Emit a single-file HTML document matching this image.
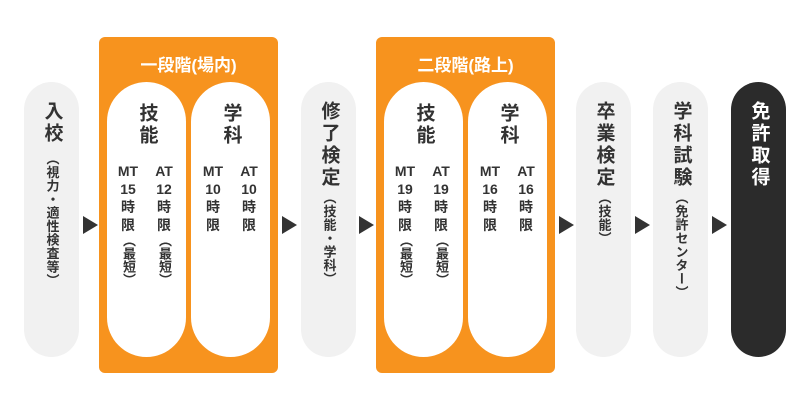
<!DOCTYPE html>
<html><head><meta charset="utf-8"><style>
body{margin:0;width:800px;height:417px;background:#fff;position:relative;overflow:hidden;font-family:"Liberation Sans","Noto Sans CJK JP",sans-serif;font-weight:bold;color:#333}
.pill{position:absolute;top:82px;width:55px;height:275px;border-radius:28px;background:#f1f1f1}
.org{position:absolute;top:37px;width:179px;height:336px;background:#f7931e;border-radius:6px}
.in{position:absolute;top:82px;width:79px;height:275px;border-radius:40px;background:#fff}
.v{position:absolute;writing-mode:vertical-rl;left:0;right:0;margin:auto;width:24px;text-align:left}
.big{font-size:19px;line-height:24px;letter-spacing:3px}
.sm{font-size:13px;line-height:24px;letter-spacing:0.5px}
.tri{position:absolute;top:216px;width:0;height:0;border-top:9px solid transparent;border-bottom:9px solid transparent;border-left:15px solid #333}
.col{position:absolute;top:80px;width:30px;text-align:center;font-size:14px;line-height:18px}
.col .p{writing-mode:vertical-rl;margin:0 auto;width:18px;line-height:18px;font-size:13px;display:inline-block}
.ttl{position:absolute;top:14px;left:0;width:179px;text-align:center;color:#fff;font-size:17px}
</style></head><body>

<div class="pill" style="left:24px"><div class="v big" style="top:19px">入校</div><div class="v sm" style="top:70px">（視力・適性検査等）</div></div>
<div class="tri" style="left:83px"></div>

<div class="org" style="left:99px"><div class="ttl">一段階(場内)</div></div>
<div class="in" style="left:107px"><div class="v big" style="top:21px">技能</div>
<div class="col" style="left:6px">MT<br>15<br>時<br>限<br><span class="p">（最短）</span></div>
<div class="col" style="left:42px">AT<br>12<br>時<br>限<br><span class="p">（最短）</span></div></div>
<div class="in" style="left:191px"><div class="v big" style="top:21px">学科</div>
<div class="col" style="left:7px">MT<br>10<br>時<br>限</div>
<div class="col" style="left:43px">AT<br>10<br>時<br>限</div></div>
<div class="tri" style="left:282px"></div>

<div class="pill" style="left:301px"><div class="v big" style="top:19px">修了検定</div><div class="v sm" style="top:109px">（技能・学科）</div></div>
<div class="tri" style="left:359px"></div>

<div class="org" style="left:376px"><div class="ttl">二段階(路上)</div></div>
<div class="in" style="left:384px"><div class="v big" style="top:21px">技能</div>
<div class="col" style="left:6px">MT<br>19<br>時<br>限<br><span class="p">（最短）</span></div>
<div class="col" style="left:42px">AT<br>19<br>時<br>限<br><span class="p">（最短）</span></div></div>
<div class="in" style="left:468px"><div class="v big" style="top:21px">学科</div>
<div class="col" style="left:7px">MT<br>16<br>時<br>限</div>
<div class="col" style="left:43px">AT<br>16<br>時<br>限</div></div>
<div class="tri" style="left:559px"></div>

<div class="pill" style="left:576px"><div class="v big" style="top:19px">卒業検定</div><div class="v sm" style="top:109px">（技能）</div></div>
<div class="tri" style="left:635px"></div>

<div class="pill" style="left:653px"><div class="v big" style="top:19px">学科試験</div><div class="v sm" style="top:109px">（免許センター）</div></div>
<div class="tri" style="left:712px"></div>

<div class="pill" style="left:731px;background:#2b2b2b;color:#fff"><div class="v big" style="top:19px">免許取得</div></div>
</body></html>
